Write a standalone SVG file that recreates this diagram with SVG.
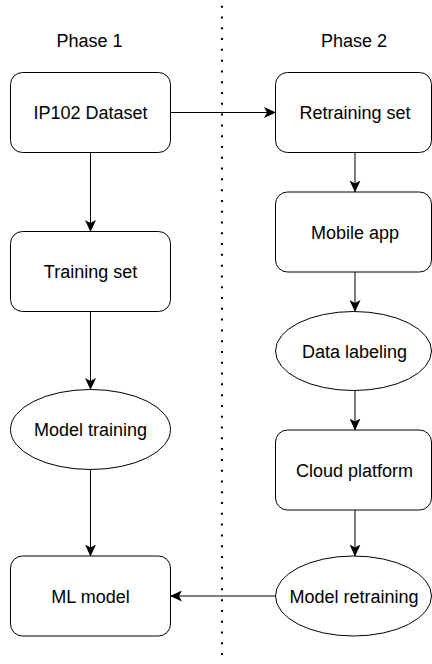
<svg xmlns="http://www.w3.org/2000/svg" width="432" height="664" viewBox="0 0 432 664">
<defs>
<style>
.n{fill:#fff;stroke:#000;stroke-width:1}
.t{font-family:"Liberation Sans",Arial,sans-serif;font-size:18px;fill:#000;text-anchor:middle}
.c{fill:none;stroke:#000;stroke-width:1;marker-end:url(#ah)}
</style>
<marker id="ah" markerUnits="userSpaceOnUse" viewBox="0 0 12 11" refX="11.5" refY="5.5" markerWidth="12" markerHeight="11" orient="auto">
<path d="M0,0 L12,5.5 L0,11 L3,5.5 Z" fill="#000"/>
</marker>
</defs>
<rect width="432" height="664" fill="#fff"/>
<line x1="222" y1="5.7" x2="222" y2="656" stroke="#000" stroke-width="2" stroke-dasharray="2 8.79"/>
<text class="t" x="89.5" y="46.5">Phase 1</text>
<text class="t" x="354" y="46.5">Phase 2</text>
<g id="connectors">
<path class="c" d="M90.5,152.5 V231.5"/>
<path class="c" d="M90.5,311.5 V389.5"/>
<path class="c" d="M90.5,469.5 V556"/>
<path class="c" d="M170.5,112.5 H275.5"/>
<path class="c" d="M355,152.5 V192"/>
<path class="c" d="M355,272 V311.5"/>
<path class="c" d="M355,390.5 V430"/>
<path class="c" d="M355,510 V556"/>
<path class="c" d="M275.5,596 H170.5"/>
</g>
<g id="ip102">
<rect class="n" x="10.5" y="72.5" width="160" height="80" rx="12"/>
<text class="t" x="90.5" y="119">IP102 Dataset</text>
</g>
<g id="training-set">
<rect class="n" x="10.5" y="231.5" width="160" height="80" rx="12"/>
<text class="t" x="90.5" y="278">Training set</text>
</g>
<g id="model-training">
<ellipse class="n" cx="90.5" cy="429.5" rx="80" ry="40"/>
<text class="t" x="90.5" y="436">Model training</text>
</g>
<g id="ml-model">
<rect class="n" x="10.5" y="556" width="160" height="80" rx="12"/>
<text class="t" x="90.5" y="602.5">ML model</text>
</g>
<g id="retraining-set">
<rect class="n" x="275.5" y="72.5" width="156" height="80" rx="12"/>
<text class="t" x="355" y="119">Retraining set</text>
</g>
<g id="mobile-app">
<rect class="n" x="275.5" y="192" width="156" height="80" rx="12"/>
<text class="t" x="355" y="238.5">Mobile app</text>
</g>
<g id="data-labeling">
<ellipse class="n" cx="353.5" cy="351" rx="78" ry="39.5"/>
<text class="t" x="354.5" y="357.5">Data labeling</text>
</g>
<g id="cloud-platform">
<rect class="n" x="275.5" y="430" width="156" height="80" rx="12"/>
<text class="t" x="354.5" y="476.5">Cloud platform</text>
</g>
<g id="model-retraining">
<ellipse class="n" cx="353.5" cy="596" rx="78" ry="40"/>
<text class="t" x="354" y="602.5">Model retraining</text>
</g>
</svg>
